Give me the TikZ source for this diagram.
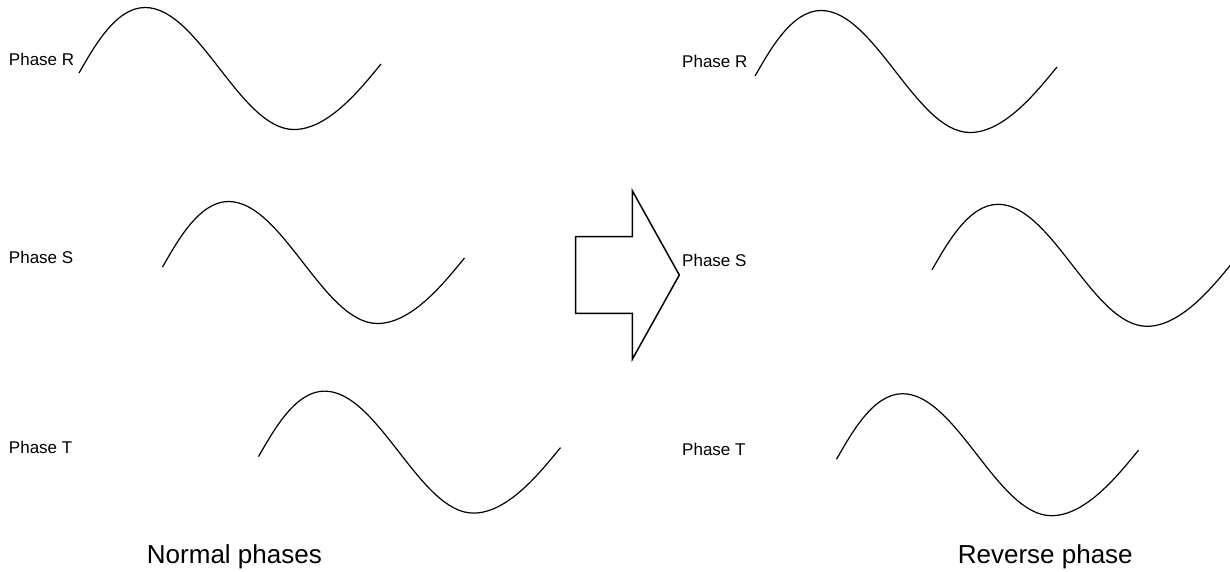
\documentclass[tikz,border=0pt]{standalone}
\usepackage{fontspec}
\setmainfont{Liberation Sans}
\begin{document}
\begin{tikzpicture}[x=1pt,y=-1pt,
  wavestyle/.style={line width=1.2pt,line join=round},
  phaselabel/.style={anchor=base west,inner sep=0pt,font=\fontsize{17}{20}\selectfont},
  titlelabel/.style={anchor=base,inner sep=0pt,font=\fontsize{26}{30}\selectfont},
  arrowshape/.style={line width=1.5pt,line join=miter},
  wave/.pic={\draw[wavestyle] (0,0) .. controls (14,-24) and (36,-65.5) .. (66,-65.5)
      .. controls (120,-65.5) and (161,56.5) .. (215,56.5)
      .. controls (250,56.5) and (283,14) .. (302,-9);}]
\useasboundingbox (0,0) rectangle (1230,571);
\clip (0,0) rectangle (1230,571);
% wave start points
\coordinate (wLR) at (79,73);
\coordinate (wLS) at (162.5,267);
\coordinate (wLT) at (258.5,456.6);
\coordinate (wRR) at (755,76);
\coordinate (wRS) at (932,269.8);
\coordinate (wRT) at (836.5,459.2);
\pic at (wLR) {wave};
\pic at (wLS) {wave};
\pic at (wLT) {wave};
\pic at (wRR) {wave};
\pic at (wRS) {wave};
\pic at (wRT) {wave};
% labels
\node[phaselabel] (lLR) at (8.8,65.7) {Phase R};
\node[phaselabel] (lLS) at (8.8,263.2) {Phase S};
\node[phaselabel] (lLT) at (8.8,453.2) {Phase T};
\node[phaselabel] (lRR) at (682,67.8) {Phase R};
\node[phaselabel] (lRS) at (682,266.2) {Phase S};
\node[phaselabel] (lRT) at (682,455.2) {Phase T};
\node[titlelabel] (tN) at (234.4,563.3) {Normal phases};
\node[titlelabel] (tR) at (1045.3,563.3) {Reverse phase};
% big arrow
\draw[arrowshape] (575.7,236.7) coordinate (a1) -- (632.3,236.7) coordinate (a2)
  -- (632.3,190.7) coordinate (a3) -- (679.3,275) coordinate (a4)
  -- (632.3,359.3) coordinate (a5) -- (632.3,313.3) coordinate (a6)
  -- (575.7,313.3) coordinate (a7) -- cycle;
\end{tikzpicture}
\end{document}
